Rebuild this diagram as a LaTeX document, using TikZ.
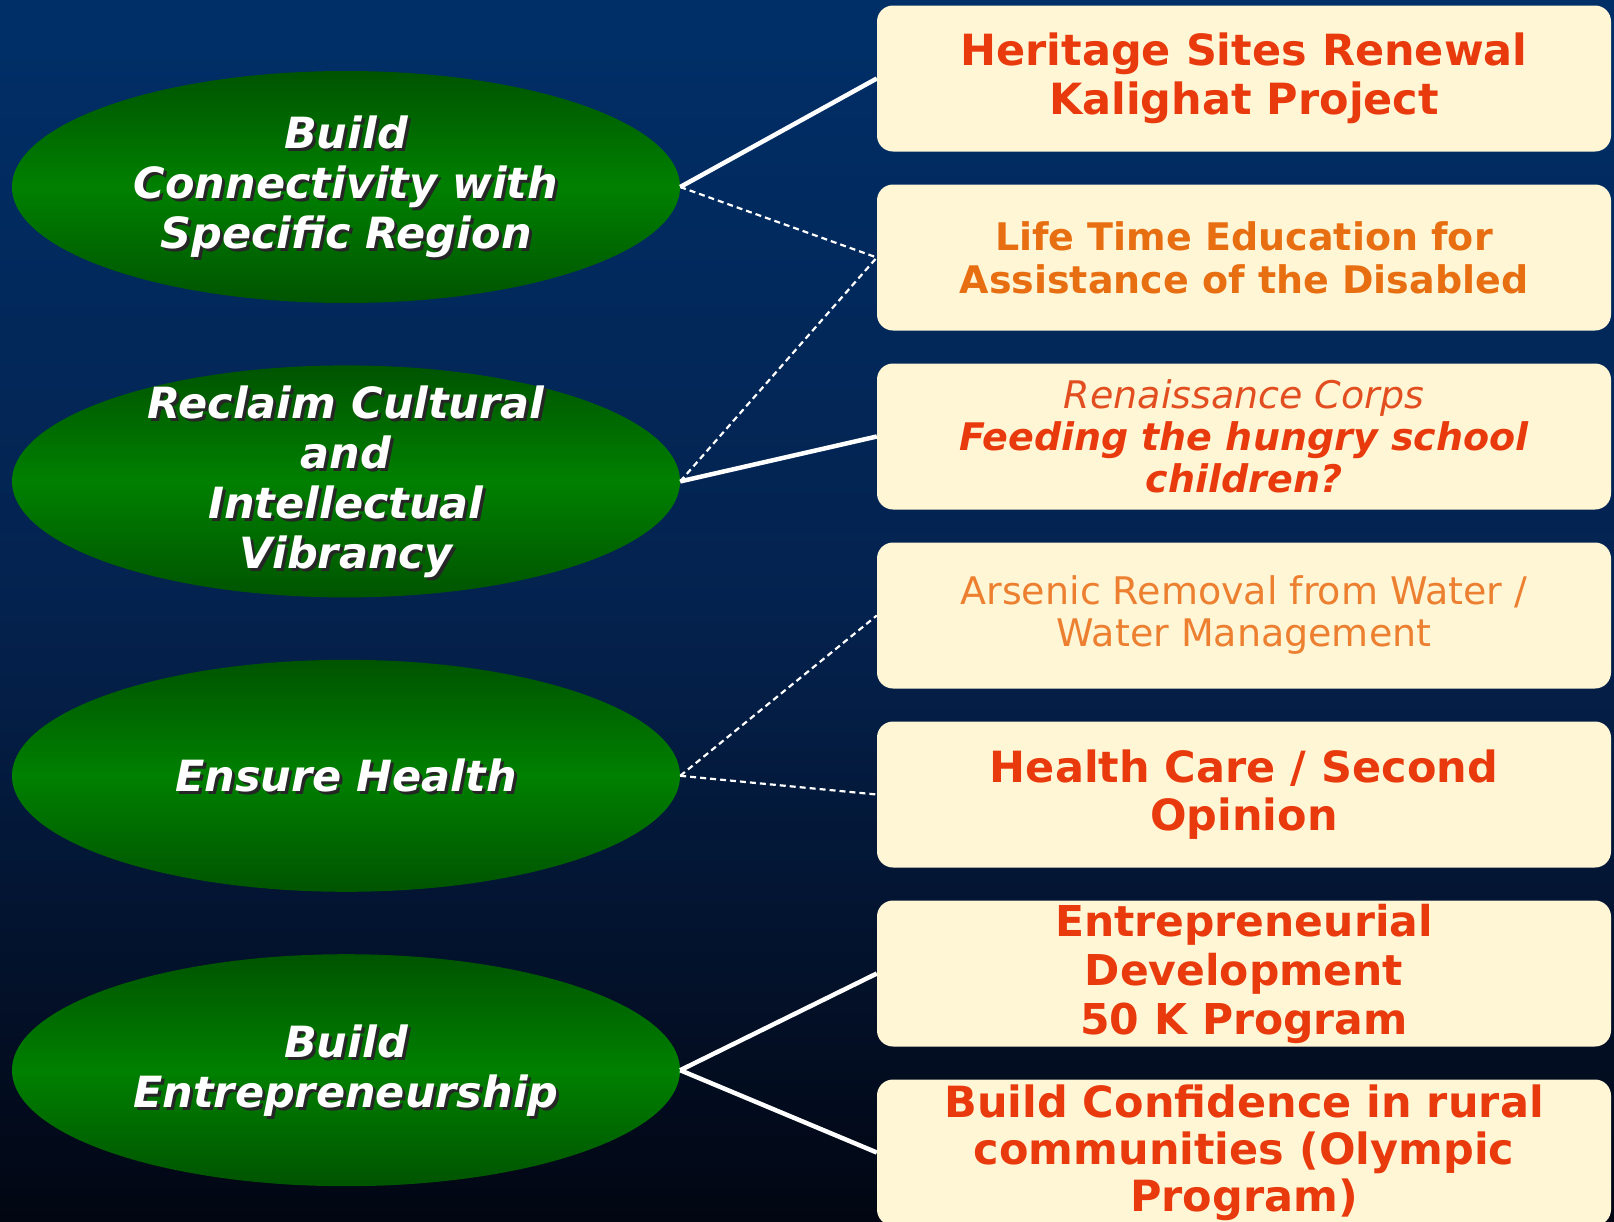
\documentclass[tikz,border=0pt]{standalone}
\usepackage{fontspec}
\setmainfont{DejaVu Sans}
\usetikzlibrary{shapes.geometric}
\usetikzlibrary{positioning}

\definecolor{bgtop}{RGB}{0,47,104}
\definecolor{bgmid}{RGB}{4,34,78}
\definecolor{bgbot}{RGB}{2,6,18}
\definecolor{gdark}{RGB}{0,84,0}
\definecolor{glight}{RGB}{0,128,0}
\definecolor{boxfill}{RGB}{255,246,214}
\definecolor{redtxt}{RGB}{232,58,12}
\definecolor{orgtxt}{RGB}{232,110,18}
\definecolor{lighttxt}{RGB}{236,128,48}
\definecolor{corpstxt}{RGB}{226,78,32}

\begin{document}
\begin{tikzpicture}
	[x=1pt, y=-1pt,
	goal/.style = {ellipse, minimum width=668pt, minimum height=232pt, inner sep=0pt,
		top color=gdark, bottom color=gdark, middle color=glight},
	goaltext/.style = {align=center, text=white, inner sep=0pt,
		font=\fontsize{43}{50}\selectfont\bfseries\itshape},
	goalshade/.style = {goaltext, text=black!85},
	project/.style = {fill=boxfill, rounded corners=16pt, minimum width=734pt,
		minimum height=146pt, inner sep=0pt, align=center, text=redtxt,
		font=\fontsize{43}{49}\selectfont\bfseries},
	strong/.style = {draw=white, line width=4.5pt},
	weak/.style = {draw=white, line width=2.2pt, dash pattern=on 6pt off 4pt}]
	\useasboundingbox (0,0) rectangle (1614,1221);
	\shade[top color=bgtop, bottom color=bgbot, middle color=bgmid] (0,0) rectangle (1614,1221);

	% goals on the left
	\node[goal] (g1) at (346,187) {};
	\node[goal] (g2) [below=62pt of g1] {};
	\node[goal] (g3) [below=62pt of g2] {};
	\node[goal] (g4) [below=62pt of g3] {};

	\node[goalshade] at ([shift={(3,3)}]g1) {Build\\Connectivity with\\Specific Region};
	\node[goaltext] (t1) at (g1) {Build\\Connectivity with\\Specific Region};
	\node[goalshade] at ([shift={(3,3)}]g2) {Reclaim Cultural\\and\\Intellectual\\Vibrancy};
	\node[goaltext] (t2) at (g2) {Reclaim Cultural\\and\\Intellectual\\Vibrancy};
	\node[goalshade] at ([shift={(3,3)}]g3) {Ensure Health};
	\node[goaltext] (t3) at (g3) {Ensure Health};
	\node[goalshade] at ([shift={(3,3)}]g4) {Build\\Entrepreneurship};
	\node[goaltext] (t4) at (g4) {Build\\Entrepreneurship};

	% projects on the right
	\node[project] (p1) at (1244,78.5) {Heritage Sites Renewal\\Kalighat Project};
	\node[project, text=orgtxt, font=\fontsize{38}{43}\selectfont\bfseries] (p2) [below=32.6pt of p1]
		{Life Time Education for\\Assistance of the Disabled};
	\node[project, font=\fontsize{38}{42}\selectfont\bfseries\itshape] (p3) [below=32.6pt of p2]
		{{\mdseries\color{corpstxt}Renaissance Corps}\\Feeding the hungry school\\children?};
	\node[project, text=lighttxt, font=\fontsize{38}{42}\selectfont] (p4) [below=32.6pt of p3]
		{Arsenic Removal from Water /\\Water Management};
	\node[project, font=\fontsize{43}{48}\selectfont\bfseries] (p5) [below=32.6pt of p4]
		{Health Care / Second\\Opinion};
	\node[project, font=\fontsize{42.5}{49}\selectfont\bfseries] (p6) [below=32.6pt of p5]
		{Entrepreneurial\\Development\\50 K Program};
	\node[project, font=\fontsize{43}{47}\selectfont\bfseries] (p7) [below=32.6pt of p6]
		{Build Confidence in rural\\communities (Olympic\\Program)};

	% links
	\draw[strong] (g1.east) -- (p1.west);
	\draw[weak] (g1.east) -- (p2.west);
	\draw[weak] (g2.east) -- (p2.west);
	\draw[strong] (g2.east) -- (p3.west);
	\draw[weak] (g3.east) -- (p4.west);
	\draw[weak] (g3.east) -- (p5.west);
	\draw[strong] (g4.east) -- (p6.west);
	\draw[strong] (g4.east) -- (p7.west);
\end{tikzpicture}
\end{document}
